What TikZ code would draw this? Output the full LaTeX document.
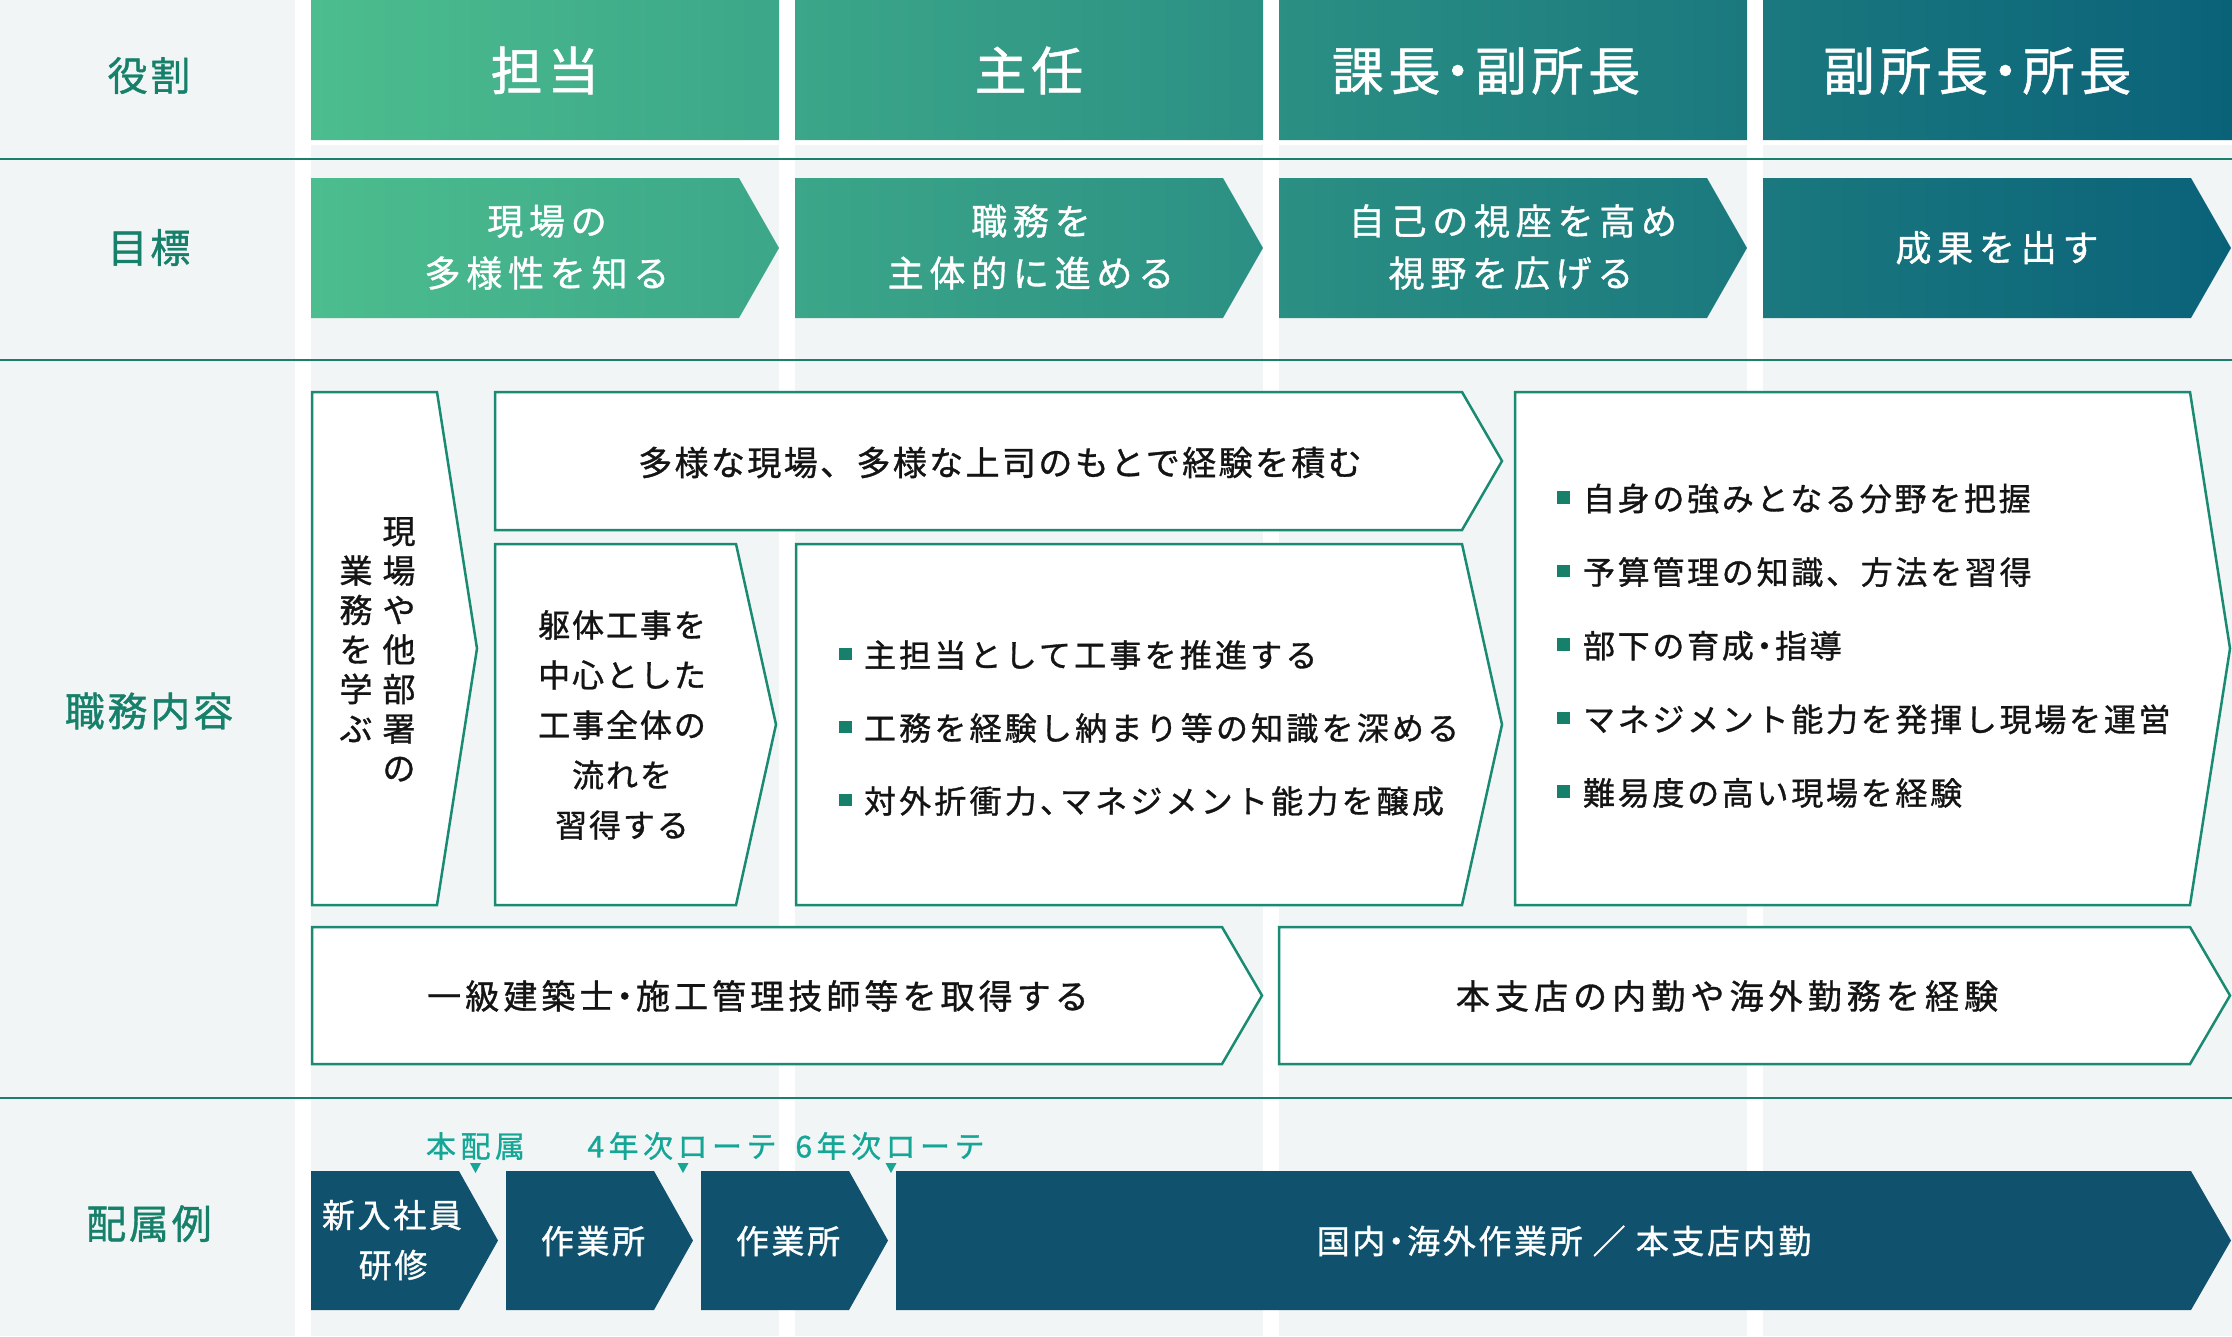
\documentclass[tikz,border=0pt]{standalone}
\usepackage{fontspec}
\setmainfont[FakeBold=1]{Noto Sans CJK JP}
\newcommand\ls[1]{\addfontfeature{LetterSpace=#1}}
\newcommand\nd{\hspace{-0.17em}・\hspace{-0.17em}}
\newcommand\chv[5]{(#1,#2) -- ({#3-#5},#2) -- (#3,{(#2+#4)/2}) -- ({#3-#5},#4) -- (#1,#4) -- cycle}
\definecolor{bgc}{RGB}{241,245,246}
\definecolor{linec}{RGB}{26,128,108}
\definecolor{boxc}{RGB}{26,138,114}
\definecolor{labc}{RGB}{22,128,106}
\definecolor{navc}{RGB}{16,82,109}
\definecolor{tagc}{RGB}{22,166,150}
\definecolor{gA}{RGB}{76,189,142}
\definecolor{gB}{RGB}{10,98,121}
\definecolor{txtc}{RGB}{20,20,20}
\tikzset{
  every node/.style={inner sep=0pt, outer sep=0pt},
  hdr/.style={text=white, font=\fontsize{52}{60}\selectfont\ls{9}, text height=39.5pt, text depth=0pt},
  lab/.style={text=labc, font=\fontsize{40}{48}\selectfont\ls{7}, text height=30.4pt, text depth=0pt},
  goal/.style={text=white, font=\fontsize{36}{44}\selectfont\ls{16}, text height=27.4pt, text depth=0pt},
  body/.style={text=txtc, font=\fontsize{34}{40}\selectfont\ls{7}, text height=25.8pt, text depth=0pt},
  bul/.style={text=txtc, font=\fontsize{32}{40}\selectfont\ls{6}, text height=24.3pt, text depth=0pt, anchor=west},
  vert/.style={text=txtc, font=\fontsize{33}{40}\selectfont, text height=25pt, text depth=0pt},
  nav/.style={text=white, font=\fontsize{33}{40}\selectfont\ls{8}, text height=25pt, text depth=0pt},
  tag/.style={text=tagc, font=\fontsize{30}{36}\selectfont\ls{15}, text height=22.8pt, text depth=0pt},
  box/.style={draw=boxc, line width=2.5pt, fill=white, line join=miter},
  hline/.style={draw=linec, line width=2pt},
  sq/.style={fill=labc},
}
\begin{document}
\begin{tikzpicture}[x=1pt,y=-1pt]
\useasboundingbox (0,0) rectangle (2232,1336);
\fill[white] (0,0) rectangle (2232,1336);
% backgrounds
\fill[bgc] (0,0) rectangle (295,1336);
\foreach \a/\b in {311/779,795/1263,1279/1747,1763/2232}
  \fill[bgc] (\a,145) rectangle (\b,1336);
% header and goals with gradient
\begin{scope}
  \clip (311,0) rectangle (779,140) (795,0) rectangle (1263,140)
        (1279,0) rectangle (1747,140) (1763,0) rectangle (2232,140)
        \chv{311}{178}{779}{318}{40} \chv{795}{178}{1263}{318}{40}
        \chv{1279}{178}{1747}{318}{40} \chv{1763}{178}{2231}{318}{40};
  \shade[left color=gA, right color=gB] (311,-2) rectangle (2232,320);
\end{scope}
% horizontal rules
\draw[hline] (0,159) -- (2232,159);
\draw[hline] (0,360) -- (2232,360);
\draw[hline] (0,1098) -- (2232,1098);
% labels
\node[lab] (l1) at (149,75.5) {役割};
\node[lab] (l2) at (149,247.5) {目標};
\node[lab] (l3) at (149,711) {職務内容};
\node[lab] (l4) at (149,1223.5) {配属例};
% header text
\node[hdr] (h1) at (545,70.5) {担当};
\node[hdr] (h2) at (1029,70.5) {主任};
\node[hdr] (h3) at (1486,70.5) {課長\nd 副所長};
\node[hdr] (h4) at (1977,70.5) {副所長\nd 所長};
% goal text
\node[goal] (g1a) at (547,221) {現場の};
\node[goal] (g1b) at (547,273) {多様性を知る};
\node[goal] (g2a) at (1031,221) {職務を};
\node[goal] (g2b) at (1031,273) {主体的に進める};
\node[goal] (g3a) at (1513,221) {自己の視座を高め};
\node[goal] (g3b) at (1511,273) {視野を広げる};
\node[goal] (g4) at (1997,247.5) {成果を出す};
% duty boxes
\draw[box] \chv{312}{392}{477}{905}{40};
\draw[box] \chv{495}{392}{1502}{530}{40};
\draw[box] \chv{495}{544}{776}{905}{40};
\draw[box] \chv{796}{544}{1502}{905}{40};
\draw[box] \chv{1515}{392}{2230}{905}{40};
\draw[box] \chv{312}{927}{1262}{1064}{40};
\draw[box] \chv{1279}{927}{2230}{1064}{40};
% vertical text in box A
\foreach \ch [count=\i] in {現,場,や,他,部,署,の}
  \node[vert] (vr\i) at (399,{531+39.5*(\i-1)}) {\ch};
\foreach \ch [count=\i] in {業,務,を,学,ぶ}
  \node[vert] (vl\i) at (356,{570.5+39.5*(\i-1)}) {\ch};
% box B
\node[body] (tb) at (1000,462.5) {多様な現場、多様な上司のもとで経験を積む};
% box C
\node[bul, anchor=center] (c1) at (622,625) {躯体工事を};
\node[bul, anchor=center] (c2) at (622,675) {中心とした};
\node[bul, anchor=center] (c3) at (622,725) {工事全体の};
\node[bul, anchor=center] (c4) at (622,775) {流れを};
\node[bul, anchor=center] (c5) at (622,825) {習得する};
% box D bullets
\foreach \t [count=\i] in {主担当として工事を推進する,工務を経験し納まり等の知識を深める,対外折衝力、\hspace{-12pt}マネジメント能力を醸成}{
  \fill[sq] (839,{655+73*(\i-1)-7.5}) rectangle (852,{655+73*(\i-1)+5});
  \node[bul, font=\fontsize{32}{40}\selectfont\ls{10}] (d\i) at (864,{655+73*(\i-1)}) {\t};
}
% box E bullets
\foreach \t [count=\i] in {自身の強みとなる分野を把握,予算管理の知識、方法を習得,部下の育成\nd 指導,マネジメント能力を発揮し現場を運営,難易度の高い現場を経験}{
  \fill[sq] (1557,{498.5+73.6*(\i-1)-7.5}) rectangle (1570,{498.5+73.6*(\i-1)+5});
  \node[bul, font=\fontsize{32}{40}\selectfont\ls{8.5}] (e\i) at (1583,{498.5+73.6*(\i-1)}) {\t};
}
% boxes F, G
\node[body, font=\fontsize{34}{40}\selectfont\ls{12}] (tf) at (758,996) {一級建築士\nd 施工管理技師等を取得する};
\node[body, font=\fontsize{34}{40}\selectfont\ls{15}] (tg) at (1727,996) {本支店の内勤や海外勤務を経験};
% placement row
\fill[navc] \chv{311}{1171}{498}{1310}{39};
\fill[navc] \chv{506}{1171}{693}{1310}{39};
\fill[navc] \chv{701}{1171}{888}{1310}{39};
\fill[navc] \chv{896}{1171}{2231}{1310}{40};
\node[nav] (n1a) at (392,1215) {新入社員};
\node[nav] (n1b) at (393,1265) {研修};
\node[nav] (n2) at (593,1241) {作業所};
\node[nav] (n3) at (788,1241) {作業所};
\node[nav] (n4) at (1564,1241) {国内\nd 海外作業所 ／ 本支店内勤};
% tags and markers
\node[tag] (t1) at (475.5,1146) {本配属};
\node[tag] (t2) at (682,1146) {4年次ローテ};
\node[tag] (t3) at (890,1146) {6年次ローテ};
\foreach \x in {475.5,683,891}
  \fill[tagc] (\x-5.5,1163) -- (\x+5.5,1163) -- (\x,1173) -- cycle;
\end{tikzpicture}
\end{document}
